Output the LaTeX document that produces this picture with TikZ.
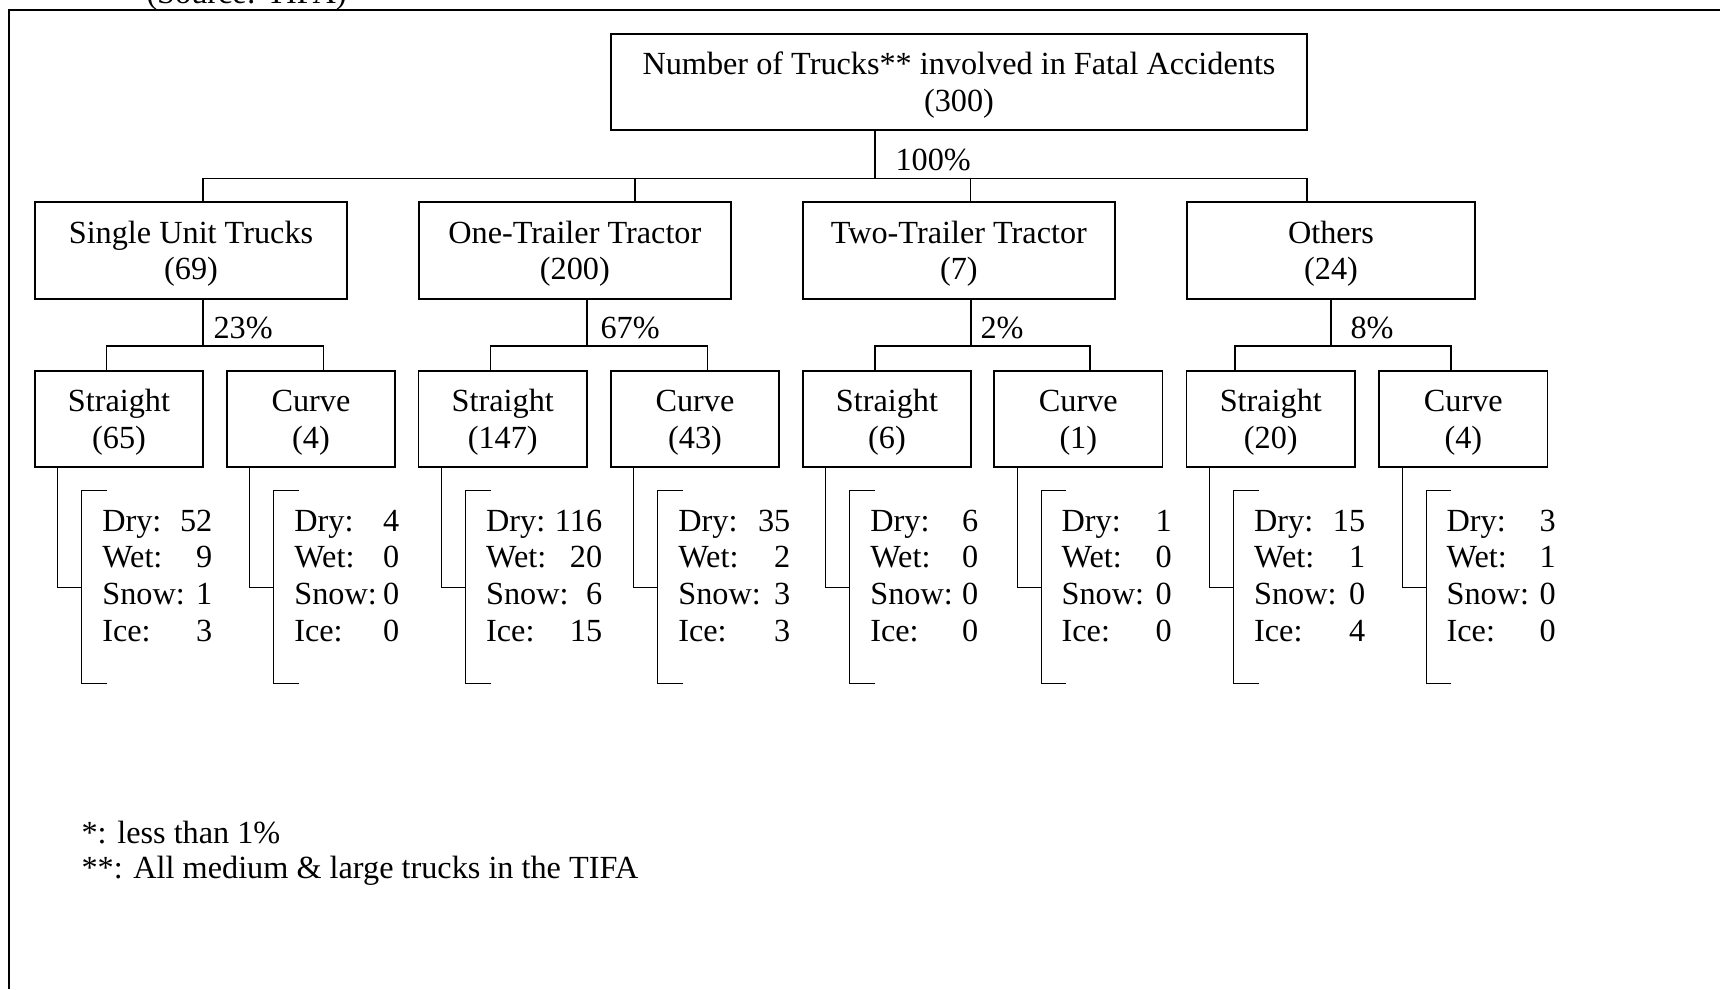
\documentclass[tikz,border=0pt]{standalone}
\usepackage{fontspec}
\setmainfont{Liberation Serif}
\usetikzlibrary{calc}

% two-line box text: name, then the count in brackets
\newcommand{\boxtext}[2]{\rule{0pt}{11.5pt}#1\\(#2)}
% one row of a road-condition list: label left, count right
\newcommand{\cond}[3]{\makebox[#1][l]{#2\hfill#3}}
\newcommand{\condlist}[5]{%
  \begin{tabular}{@{}l@{}}
    \cond{#1}{Dry:}{#2}\\
    \cond{#1}{Wet:}{#3}\\
    \cond{#1}{Snow:}{#4}\\
    \cond{#1}{Ice:}{#5}
  \end{tabular}}

\begin{document}
\begin{tikzpicture}[x=0.4pt, y=-0.4pt,
    every node/.style={font=\fontsize{12.9}{14.7}\selectfont},
    box/.style={draw, line width=0.72pt, align=center, inner sep=0pt},
    topbox/.style={box, minimum width=278.4pt, minimum height=38.4pt},
    typebox/.style={box, minimum width=125pt, minimum height=38.6pt},
    roadbox/.style={box, minimum width=67.4pt, minimum height=38.6pt},
    link/.style={line width=0.5pt},
    pct/.style={anchor=west, inner sep=0pt},
    conds/.style={anchor=west, inner sep=0pt},
    note/.style={anchor=base west, inner sep=0pt}]
  \useasboundingbox (0,0) rectangle (1720,989);

  % frame and cut-off source line
  \draw[line width=0.8pt] (9,989) -- (9,9.5) -- (1720,9.5);
  \node[anchor=base west, inner sep=0pt] (src) at (146,3) {(Source: TIFA)};

  % top level
  \node[topbox] (top) at (959,82) {\boxtext{Number of Trucks** involved in Fatal Accidents}{300}};

  % truck types
  \node[typebox] (sut) at (191,250.5) {\boxtext{Single Unit Trucks}{69}};
  \node[typebox] (ott) at (574.85,250.5) {\boxtext{One-Trailer Tractor}{200}};
  \node[typebox] (ttt) at (958.85,250.5) {\boxtext{Two-Trailer Tractor}{7}};
  \node[typebox, minimum width=115.4pt] (oth) at (1331,250.5) {\boxtext{Others}{24}};

  \coordinate (hub) at (875,178.3);
  \draw[link] (top.south -| hub) -- (hub);
  \node[pct] (p100) at ($(hub)+(20,-18)$) {100\%};
  \foreach \n/\dx in {sut/12, ott/60.15, ttt/12, oth/-24}
    \draw[link] ($(\n.north)+(\dx,0)$) |- (hub);

  % road alignment
  \node[roadbox] (s1) at (119,419) {\boxtext{Straight}{65}};
  \node[roadbox] (c1) at (311,419) {\boxtext{Curve}{4}};
  \node[roadbox] (s2) at (502.8,419) {\boxtext{Straight}{147}};
  \node[roadbox] (c2) at (695,419) {\boxtext{Curve}{43}};
  \node[roadbox] (s3) at (887,419) {\boxtext{Straight}{6}};
  \node[roadbox] (c3) at (1078.3,419) {\boxtext{Curve}{1}};
  \node[roadbox] (s4) at (1270.8,419) {\boxtext{Straight}{20}};
  \node[roadbox] (c4) at (1463.3,419) {\boxtext{Curve}{4}};

  \foreach \g/\s/\c/\jx/\sdx/\cdx/\lx/\p in {
      sut/s1/c1/203/-12.3/12.3/10/23,
      ott/s2/c2/587/-12.1/12.3/13/67,
      ttt/s3/c3/971/-12/11.7/9/2,
      oth/s4/c4/1331/-35.8/-12.3/19/8} {
    \coordinate (j-\g) at (\jx,346);
    \draw[link] (\g.south -| j-\g) -- (j-\g);
    \draw[link] ($(\s.north)+(\sdx,0)$) |- (j-\g) -| ($(\c.north)+(\cdx,0)$);
    \node[pct] (p-\g) at ($(j-\g)+(\lx,-18)$) {\p\%};
  }

  % road surface brackets
  \foreach \n/\w/\dry/\wet/\snow/\ice in {
      s1/44/52/9/1/3, c1/42/4/0/0/0,
      s2/46.4/116/20/6/15, c2/44.8/35/2/3/3,
      s3/43.2/6/0/0/0, c3/44/1/0/0/0,
      s4/44.4/15/1/0/4, c4/43.6/3/1/0/0} {
    \draw[link] ($(\n.south west)+(24,0)$) |- ($(\n.south west)+(48,119.4)$);
    \draw[link] ($(\n.south west)+(73,22.7)$) -| ($(\n.south west)+(48,215)$) -- ++(25,0);
    \node[conds] (\n-cond) at ($(\n.south west)+(68,110.7)$) {\condlist{\w pt}{\dry}{\wet}{\snow}{\ice}};
  }

  % footnotes
  \node[note] (n1) at (81,843.5) {*: less than 1\%};
  \node[note] (n2) at (81,878) {**: All medium \& large trucks in the TIFA};
\end{tikzpicture}
\end{document}
